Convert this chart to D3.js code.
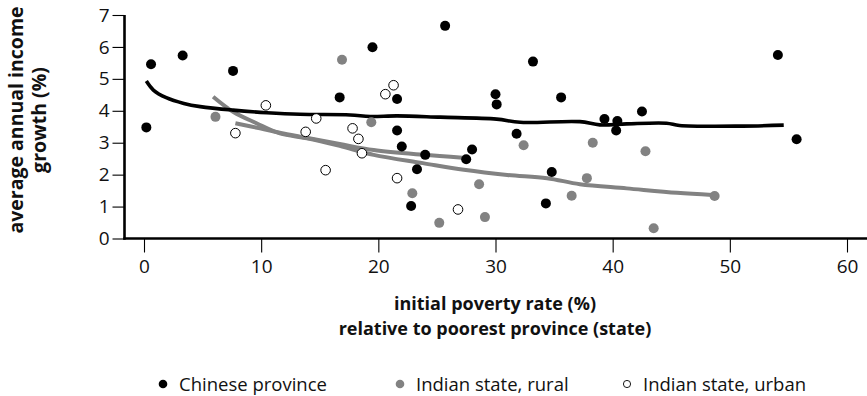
<!DOCTYPE html>
<html>
<head>
<meta charset="utf-8">
<script src="https://cdn.jsdelivr.net/npm/d3@7/dist/d3.min.js"></script>
<style>
  html, body { margin: 0; padding: 0; background: #fff; }
  svg { display: block; font-family: "Open Sans", "Noto Sans", sans-serif; }
</style>
</head>
<body>
<svg id="chart" width="867" height="396"></svg>
<script>
// Initial poverty rate (%) vs. average annual income growth (%)
const chinese = [
  [0.6, 5.46], [3.3, 5.73], [0.2, 3.48], [7.6, 5.25], [16.7, 4.42], [19.5, 5.99],
  [25.7, 6.66], [21.6, 4.37], [21.6, 3.38], [22.0, 2.88], [24.0, 2.62], [23.3, 2.17],
  [22.8, 1.02], [27.5, 2.48], [28.0, 2.79], [30.0, 4.52], [30.1, 4.20], [31.8, 3.28],
  [33.2, 5.54], [35.6, 4.42], [34.8, 2.08], [34.3, 1.10], [39.3, 3.74], [40.4, 3.68],
  [40.3, 3.38], [42.5, 3.98], [54.1, 5.75], [55.7, 3.11]
];
const indianRural = [
  [6.1, 3.81], [16.9, 5.60], [19.4, 3.64], [22.9, 1.42], [25.2, 0.49], [28.6, 1.70],
  [29.1, 0.67], [32.4, 2.92], [36.5, 1.34], [37.8, 1.89], [38.3, 3.00], [42.8, 2.73],
  [43.5, 0.32], [48.7, 1.33]
];
const indianUrban = [
  [7.8, 3.30], [10.4, 4.17], [13.8, 3.34], [14.7, 3.76], [15.5, 2.14], [17.8, 3.45],
  [18.3, 3.12], [18.6, 2.67], [20.6, 4.52], [21.3, 4.80], [21.6, 1.89], [26.8, 0.91]
];
// smoothed trend curves
const chineseTrend = [
  [0.2, 4.93], [0.8, 4.65], [1.9, 4.41], [3.4, 4.23], [4.8, 4.13], [7.6, 4.02],
  [10.5, 3.94], [13.3, 3.89], [17.6, 3.87], [19.3, 3.82], [21.6, 3.84], [25.3, 3.80],
  [30.1, 3.74], [32.1, 3.64], [37.2, 3.66], [38.9, 3.56], [41.2, 3.59], [44.6, 3.61],
  [45.7, 3.54], [51.1, 3.52], [54.6, 3.55]
];
const ruralTrend = [
  [5.9, 4.44], [7.6, 3.97], [9.6, 3.61], [11.6, 3.29], [13.9, 3.14], [16.7, 2.90],
  [19.6, 2.62], [23.8, 2.36], [27.3, 2.15], [31.0, 1.99], [34.4, 1.89], [37.2, 1.70],
  [41.2, 1.57], [45.5, 1.43], [48.5, 1.36]
];
const urbanTrend = [
  [7.8, 3.61], [9.9, 3.45], [11.9, 3.29], [14.2, 3.13], [16.7, 2.96], [19.6, 2.77],
  [23.8, 2.62], [27.2, 2.53]
];
const xTicks = [0, 10, 20, 30, 40, 50, 60];
const yTicks = [0, 1, 2, 3, 4, 5, 6, 7];
const xTitle = ["initial poverty rate (%)", "relative to poorest province (state)"];
const yTitle = ["average annual income", "growth (%)"];
const legendLabels = ["Chinese province", "Indian state, rural", "Indian state, urban"];

const GREY = "#828282";
const INK = "#111";
const svg = d3.select("#chart");

const x = d3.scaleLinear().domain([0, 60]).range([144, 847]);
const y = d3.scaleLinear().domain([0, 7]).range([238.5, 15]);
const axisX = 124.5;   // position of the vertical axis
const axisY = y(0);

// axes
const xAxis = svg.append("g").attr("transform", `translate(0,${axisY})`)
  .call(d3.axisBottom(x).tickValues(xTicks).tickFormat(d3.format("d"))
    .tickSize(14).tickPadding(7).tickSizeOuter(0));
xAxis.select(".domain").remove();
xAxis.append("line").attr("x1", axisX - 1.2).attr("x2", 867).attr("y1", 0).attr("y2", 0)
  .attr("stroke", "#000").attr("stroke-width", 2.6);

const yAxis = svg.append("g").attr("transform", `translate(${axisX},0)`)
  .call(d3.axisLeft(y).tickValues(yTicks).tickFormat(d3.format("d"))
    .tickSize(12).tickPadding(3).tickSizeOuter(0));
yAxis.select(".domain").remove();
yAxis.append("line").attr("x1", 0).attr("x2", 0).attr("y1", y(7)).attr("y2", axisY + 1.2)
  .attr("stroke", "#000").attr("stroke-width", 2.6);

svg.selectAll(".tick line").attr("stroke", "#000").attr("stroke-width", 1.1);
svg.selectAll(".tick text").attr("font-family", "'Open Sans', sans-serif")
  .attr("font-size", 19).attr("fill", INK);

// axis titles, one text element per line
svg.append("g").selectAll("text").data(xTitle).join("text")
  .attr("x", 495).attr("y", (d, i) => 309.5 + i * 25)
  .attr("text-anchor", "middle").attr("font-weight", "bold").attr("font-size", 18)
  .attr("fill", INK).text(d => d);

svg.append("g").attr("transform", "translate(23,120) rotate(-90)")
  .selectAll("text").data(yTitle).join("text")
  .attr("x", 0).attr("y", (d, i) => i * 23)
  .attr("text-anchor", "middle").attr("font-weight", "bold").attr("font-size", 19.5)
  .attr("fill", INK).text(d => d);

// trend curves
const line = d3.line().x(d => x(d[0])).y(d => y(d[1])).curve(d3.curveCatmullRom.alpha(0.5));
svg.append("path").datum(ruralTrend).attr("d", line)
  .attr("fill", "none").attr("stroke", GREY).attr("stroke-width", 4);
svg.append("path").datum(urbanTrend).attr("d", line)
  .attr("fill", "none").attr("stroke", GREY).attr("stroke-width", 4);
svg.append("path").datum(chineseTrend).attr("d", line)
  .attr("fill", "none").attr("stroke", "#000").attr("stroke-width", 3.6);

// scatter points
svg.append("g").selectAll("circle").data(indianUrban).join("circle")
  .attr("cx", d => x(d[0])).attr("cy", d => y(d[1])).attr("r", 4.8)
  .attr("fill", "#fff").attr("stroke", "#000").attr("stroke-width", 1);
svg.append("g").selectAll("circle").data(indianRural).join("circle")
  .attr("cx", d => x(d[0])).attr("cy", d => y(d[1])).attr("r", 5)
  .attr("fill", GREY);
svg.append("g").selectAll("circle").data(chinese).join("circle")
  .attr("cx", d => x(d[0])).attr("cy", d => y(d[1])).attr("r", 5)
  .attr("fill", "#000");

// legend
const legendX = [163, 400, 627];
const lg = svg.append("g").selectAll("g").data(legendLabels).join("g")
  .attr("transform", (d, i) => `translate(${legendX[i]},384)`);
lg.append("circle").attr("r", (d, i) => i === 2 ? 3.6 : 4.3)
  .attr("fill", (d, i) => i === 0 ? "#000" : i === 1 ? GREY : "#fff")
  .attr("stroke", (d, i) => i === 2 ? "#000" : "none").attr("stroke-width", 0.9);
lg.append("text").attr("x", 16).attr("y", 6.5).attr("font-size", 18.5).attr("fill", INK)
  .text(d => d);
</script>
</body>
</html>
